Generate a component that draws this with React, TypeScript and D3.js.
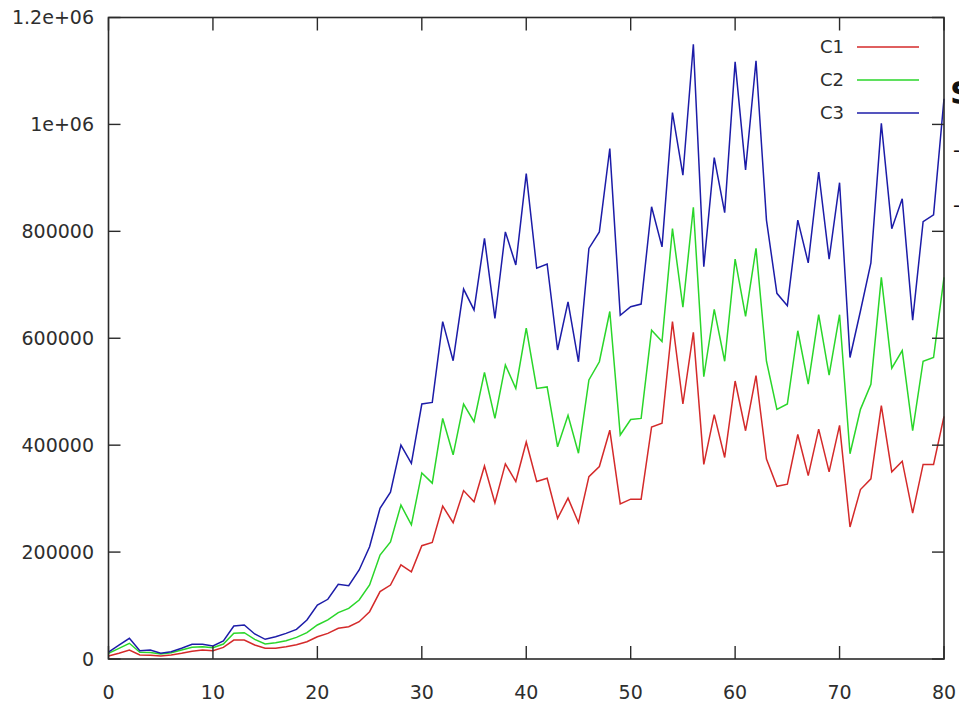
import { useEffect, useRef } from 'react'
import * as d3 from 'd3'

const xs = d3.range(0, 81)

const c1 = [
  5600, 10600, 16800, 7500, 7000, 5600, 7500, 10600, 14400, 16800,
  15500, 21800, 35500, 35500, 26200, 20000, 20000, 23100, 26800, 32400,
  41700, 48000, 57400, 60400, 69800, 88500, 126000, 138400, 176000, 163000,
  212000, 218000, 286000, 255000, 315000, 294000, 361000, 292000, 365000, 332000,
  406000, 332000, 338000, 263000, 301000, 255000, 341000, 360000, 428000, 290000,
  299000, 299000, 434000, 441000, 631000, 477000, 611000, 364000, 457000, 377000,
  520000, 427000, 530000, 374000, 323000, 327000, 420000, 343000, 430000, 350000,
  437000, 247000, 317000, 337000, 474000, 350000, 370000, 273000, 364000, 364000,
  454000,
]

const c2 = [
  10600, 20000, 29400, 12500, 12000, 9400, 11800, 16800, 21800, 23100,
  21200, 28000, 48000, 49300, 36800, 28000, 30600, 34300, 40500, 49300,
  63600, 73000, 86700, 94800, 110400, 138400, 194500, 219000, 288000, 251000,
  348000, 329000, 450000, 382000, 477000, 444000, 536000, 450000, 550000, 506000,
  619000, 506000, 509000, 397000, 456000, 385000, 522000, 556000, 650000, 419000,
  448000, 450000, 615000, 594000, 805000, 658000, 845000, 528000, 654000, 557000,
  748000, 641000, 768000, 557000, 467000, 477000, 614000, 514000, 644000, 531000,
  644000, 384000, 467000, 514000, 714000, 544000, 577000, 427000, 557000, 564000,
  714000,
]

const c3 = [
  13000, 26000, 38700, 15500, 16800, 10600, 13700, 20000, 27500, 27500,
  24300, 33700, 61700, 63600, 46800, 36800, 41700, 48000, 55500, 73000,
  101000, 111700, 139700, 137000, 166500, 210000, 282000, 312000, 400000, 366000,
  477000, 480000, 631000, 558000, 692000, 653000, 787000, 637000, 799000, 737000,
  908000, 731000, 739000, 578000, 668000, 556000, 768000, 799000, 955000, 643000,
  659000, 664000, 846000, 771000, 1022000, 905000, 1150000, 734000, 938000, 835000,
  1117000, 915000, 1119000, 821000, 684000, 661000, 821000, 741000, 911000, 748000,
  891000, 564000, 651000, 741000, 1002000, 805000, 861000, 634000, 818000, 831000,
  1048000,
]

const seriesNames = ['C1', 'C2', 'C3']
const seriesColors = ['#d42a2a', '#2ad62a', '#1c1ca8']
const xTicks = [0, 10, 20, 30, 40, 50, 60, 70, 80]
const yTicks = [0, 200000, 400000, 600000, 800000, 1000000, 1200000]
const yTickLabels = ['0', '200000', '400000', '600000', '800000', '1e+06', '1.2e+06']

function App() {
  const ref = useRef(null)

  useEffect(() => {
    const width = 959
    const height = 704
    const left = 108.5
    const right = 944
    const top = 17.5
    const bottom = 659
    const font = 'DejaVu Sans, sans-serif'
    const textColor = '#2e2e2e'

    const svg = d3
      .select(ref.current)
      .append('svg')
      .attr('width', width)
      .attr('height', height)
      .style('position', 'absolute')
      .style('left', 0)
      .style('top', 0)
      .style('background', '#fff')

    const x = d3.scaleLinear().domain([0, 80]).range([left, right])
    const y = d3.scaleLinear().domain([0, 1200000]).range([bottom, top])

    const line = d3
      .line<number>()
      .x((_, i) => x(xs[i]))
      .y((d) => y(d))

    // data lines
    ;[c1, c2, c3].forEach((vals, k) => {
      svg
        .append('path')
        .datum(vals)
        .attr('d', line)
        .attr('fill', 'none')
        .attr('stroke', seriesColors[k])
        .attr('stroke-width', 1.5)
    })

    const tickLen = 13
    const axisColor = '#2a2a2a'

    // ticks (inward, on all four sides)
    xTicks.forEach((t) => {
      svg.append('line')
        .attr('x1', x(t)).attr('x2', x(t))
        .attr('y1', bottom).attr('y2', bottom - tickLen)
        .attr('stroke', axisColor).attr('stroke-width', 1.4)
      svg.append('line')
        .attr('x1', x(t)).attr('x2', x(t))
        .attr('y1', top).attr('y2', top + tickLen)
        .attr('stroke', axisColor).attr('stroke-width', 1.4)
      svg.append('text')
        .attr('x', x(t))
        .attr('y', 699)
        .attr('text-anchor', 'middle')
        .attr('font-family', font)
        .attr('font-size', 19)
        .attr('fill', textColor)
        .text(t)
    })

    yTicks.forEach((t, i) => {
      svg.append('line')
        .attr('x1', left).attr('x2', left + 12)
        .attr('y1', y(t)).attr('y2', y(t))
        .attr('stroke', axisColor).attr('stroke-width', 1.4)
      svg.append('line')
        .attr('x1', right).attr('x2', right - 12)
        .attr('y1', y(t)).attr('y2', y(t))
        .attr('stroke', axisColor).attr('stroke-width', 1.4)
      svg.append('text')
        .attr('x', 94)
        .attr('y', y(t))
        .attr('dy', '0.36em')
        .attr('text-anchor', 'end')
        .attr('font-family', font)
        .attr('font-size', 19)
        .attr('fill', textColor)
        .text(yTickLabels[i])
    })

    // frame
    svg.append('rect')
      .attr('x', left).attr('y', top)
      .attr('width', right - left).attr('height', bottom - top)
      .attr('fill', 'none')
      .attr('stroke', axisColor)
      .attr('stroke-width', 1.6)

    // legend
    seriesNames.forEach((name, k) => {
      const ly = 47 + k * 33
      svg.append('text')
        .attr('x', 844)
        .attr('y', ly)
        .attr('dy', '0.36em')
        .attr('text-anchor', 'end')
        .attr('font-family', font)
        .attr('font-size', 18)
        .attr('fill', textColor)
        .text(name)
      svg.append('line')
        .attr('x1', 857).attr('x2', 919)
        .attr('y1', ly).attr('y2', ly)
        .attr('stroke', seriesColors[k])
        .attr('stroke-width', 1.5)
    })

    // text cut off at the right edge, as in the source image
    svg.append('text')
      .attr('x', 950).attr('y', 104)
      .attr('font-family', font)
      .attr('font-size', 32)
      .attr('font-weight', 'bold')
      .attr('fill', '#111')
      .text('S')
    ;[150, 205].forEach((ty) => {
      svg.append('text')
        .attr('x', 953).attr('y', ty)
        .attr('dy', '0.36em')
        .attr('font-family', font)
        .attr('font-size', 20)
        .attr('fill', '#111')
        .text('-')
    })

    return () => {
      svg.remove()
    }
  }, [])

  return <div ref={ref} />
}

export default App
